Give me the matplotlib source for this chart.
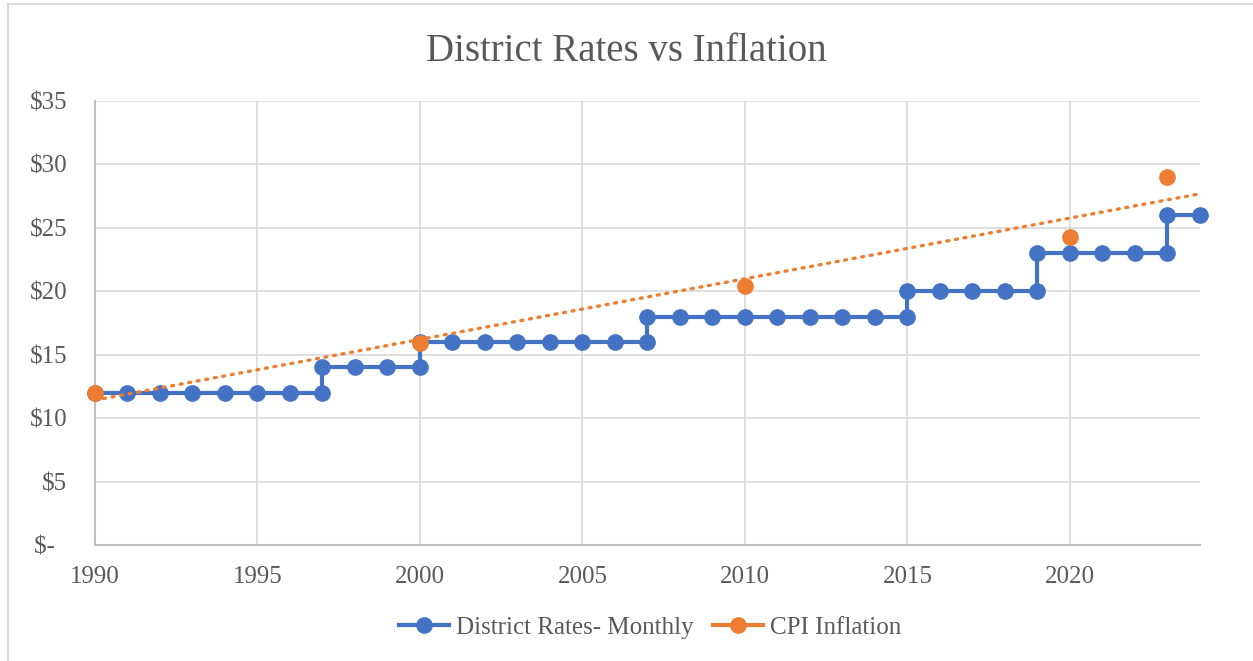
import numpy as np
import matplotlib
matplotlib.use("Agg")
import matplotlib.pyplot as plt
from matplotlib.lines import Line2D

plt.rcParams['font.family'] = ['Liberation Serif', 'DejaVu Serif']

# district rates (step points, years repeated where the rate changes)
rate_years = [1990, 1991, 1992, 1993, 1994, 1995, 1996, 1997,
              1997, 1998, 1999, 2000,
              2000, 2001, 2002, 2003, 2004, 2005, 2006, 2007,
              2007, 2008, 2009, 2010, 2011, 2012, 2013, 2014, 2015,
              2015, 2016, 2017, 2018, 2019,
              2019, 2020, 2021, 2022, 2023,
              2023, 2024]
rate_values = [12, 12, 12, 12, 12, 12, 12, 12,
               14, 14, 14, 14,
               16, 16, 16, 16, 16, 16, 16, 16,
               18, 18, 18, 18, 18, 18, 18, 18, 18,
               20, 20, 20, 20, 20,
               23, 23, 23, 23, 23,
               26, 26]

cpi_years = [1990, 2000, 2010, 2020, 2023]
cpi_values = [12.0, 15.9, 20.4, 24.3, 29.0]

y_ticks = [0, 5, 10, 15, 20, 25, 30, 35]
y_labels = ['$-  ', '$5', '$10', '$15', '$20', '$25', '$30', '$35']
x_ticks = [1990, 1995, 2000, 2005, 2010, 2015, 2020]

blue = '#4472C4'
orange = '#ED7D31'
txt = '#595959'

fig = plt.figure(figsize=(12.53, 6.61), dpi=100)
ax = fig.add_axes([0.0758, 0.1755, 0.8819, 0.6717])

ax.plot(rate_years, rate_values, color=blue, lw=3, marker='o', ms=11,
        zorder=3, solid_joinstyle='round', clip_on=False)
ax.plot(cpi_years, cpi_values, color=orange, lw=0, marker='o', ms=11,
        zorder=4, clip_on=False)

# linear trend of CPI
coef = np.polyfit(cpi_years, cpi_values, 1)
tx = np.array([1990, 2024])
ax.plot(tx, np.polyval(coef, tx), color=orange, lw=2.4,
        linestyle=(0, (0.6, 2.0)), dash_capstyle='round', zorder=5)

ax.set_xlim(1990, 2024)
ax.set_ylim(0, 35)
ax.set_xticks(x_ticks)
ax.set_yticks(y_ticks)
ax.set_yticklabels(y_labels)
ax.tick_params(axis='both', length=0, labelsize=18, colors=txt)
ax.tick_params(axis='y', pad=20)
ax.tick_params(axis='x', pad=15)
ax.grid(True, color='#d9d9d9', lw=1.2)
ax.set_axisbelow(True)
for s in ['top', 'right']:
    ax.spines[s].set_visible(False)
for s in ['left', 'bottom']:
    ax.spines[s].set_color('#bfbfbf')
    ax.spines[s].set_linewidth(1.5)

fig.text(0.5, 0.922, 'District Rates vs Inflation', ha='center', va='center',
         fontsize=28, color=txt)

handles = [Line2D([], [], color=blue, lw=3, marker='o', ms=11),
           Line2D([], [], color=orange, lw=3, marker='o', ms=11)]
fig.legend(handles, ['District Rates- Monthly', 'CPI Inflation'],
           loc='center', bbox_to_anchor=(0.519, 0.05), ncol=2, frameon=False,
           fontsize=18, labelcolor=txt, handlelength=2.0, handletextpad=0.3,
           columnspacing=0.75)

# chart border
fig.add_artist(Line2D([0.006, 1.0], [0.994, 0.994], color='#d9d9d9', lw=1.5))
fig.add_artist(Line2D([0.006, 0.006], [0.0, 0.994], color='#d9d9d9', lw=1.5))

fig.savefig('out.png', dpi=100)
